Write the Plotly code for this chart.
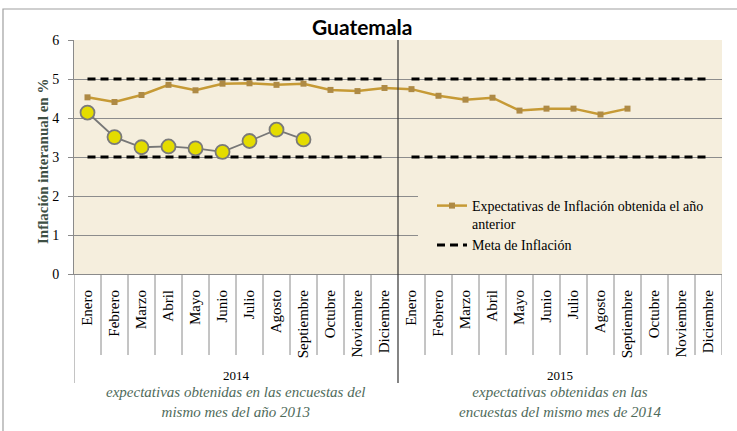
import plotly.graph_objects as go

# ---------------- data ----------------
months = ["Enero", "Febrero", "Marzo", "Abril", "Mayo", "Junio", "Julio",
          "Agosto", "Septiembre", "Octubre", "Noviembre", "Diciembre"]
years = ["2014", "2015"]
tick_labels = months * len(years)

# Expectativas de inflación obtenidas el año anterior (Ene-2014 .. Sep-2015)
expect_prev = [4.53, 4.41, 4.59, 4.85, 4.71, 4.88, 4.89, 4.85, 4.88, 4.72, 4.69, 4.77,
               4.74, 4.57, 4.47, 4.52, 4.19, 4.24, 4.24, 4.09, 4.24]
# Inflación observada 2014 (Ene .. Sep)
observed_2014 = [4.14, 3.51, 3.25, 3.27, 3.22, 3.13, 3.41, 3.70, 3.45]
meta_upper = 5
meta_lower = 3

year_notes = ["<i>expectativas obtenidas en las encuestas del<br>mismo mes del año 2013</i>",
              "<i>expectativas obtenidas en las<br>encuestas del mismo mes de 2014</i>"]

# ---------------- layout constants ----------------
W, H = 737, 431
L, R, T, B = 74, 15, 40, 157
PW, PH = W - L - R, H - T - B

def px_x(px):
    return (px - L) / PW

def px_y(py):
    return (H - B - py) / PH

SERIF = "Liberation Serif"
BEIGE = "#F5EEDD"
GOLD = "#C69A35"
GOLD_MK = "#AE8A45"
GRID = "#8c8c8c"
NOTE = "#4F6B5B"

n_cat = len(tick_labels)
x_idx = list(range(n_cat))

# meta segments, one per year
meta_x, meta_y = [], []
for level in (meta_upper, meta_lower):
    for yi in range(len(years)):
        block = list(range(yi * 12, yi * 12 + 12))
        meta_x += block + [None]
        meta_y += [level] * len(block) + [None]

fig = go.Figure()

fig.add_trace(go.Scatter(
    x=meta_x, y=meta_y, mode="lines", name="Meta de Inflación",
    line=dict(color="black", width=3, dash="8px,5px"),
    connectgaps=False, legendrank=2, hoverinfo="skip"))

fig.add_trace(go.Scatter(
    x=x_idx[:len(expect_prev)], y=expect_prev, mode="lines+markers",
    name="Expectativas de Inflación obtenida el año<br>anterior",
    line=dict(color=GOLD, width=2.5),
    marker=dict(symbol="square", size=6, color=GOLD_MK),
    legendrank=1))

fig.add_trace(go.Scatter(
    x=x_idx[:len(observed_2014)], y=observed_2014, mode="lines+markers",
    showlegend=False,
    line=dict(color="#777777", width=1.8),
    marker=dict(symbol="circle", size=14, color="#E4DC00",
                line=dict(color="#7a7a7a", width=1.8))))

shapes = []
# legend backing panel (hides gridlines behind the legend)
shapes.append(dict(type="rect", xref="paper", yref="paper", layer="above",
                   x0=px_x(418), x1=1, y0=px_y(266), y1=px_y(190),
                   fillcolor=BEIGE, line=dict(width=0)))
# category boundaries
for i in range(n_cat + 1):
    xb = i - 0.5
    if i == 12:
        shapes.append(dict(type="line", xref="x", yref="paper", x0=xb, x1=xb,
                           y0=px_y(383), y1=1, line=dict(color="#333333", width=1.2)))
    elif i == 0:
        shapes.append(dict(type="line", xref="x", yref="paper", x0=xb, x1=xb,
                           y0=px_y(383), y1=0, line=dict(color="#8a8a8a", width=1)))
    else:
        shapes.append(dict(type="line", xref="x", yref="paper", x0=xb, x1=xb,
                           y0=px_y(355), y1=0, line=dict(color="#8a8a8a", width=1)))
# outer border
shapes.append(dict(type="rect", xref="paper", yref="paper",
                   x0=px_x(3), x1=px_x(742), y0=px_y(445), y1=px_y(9),
                   line=dict(color="#a0a0a0", width=1.2)))

annotations = [
    dict(text="<b>Guatemala</b>", xref="paper", yref="paper", x=px_x(362), y=px_y(27),
         showarrow=False, font=dict(family="Lato, Open Sans, sans-serif", size=21, color="black"),
         xanchor="center", yanchor="middle"),
    dict(text="<b>Inflación interanual en %</b>", xref="paper", yref="paper",
         x=px_x(43), y=px_y(162), textangle=-90, showarrow=False,
         font=dict(family=SERIF, size=15, color="#3E4F44"),
         xanchor="center", yanchor="middle"),
]
for yi, yr in enumerate(years):
    cx = yi * 12 + 5.5
    annotations.append(dict(text=yr, xref="x", yref="paper", x=cx, y=px_y(375),
                            showarrow=False, font=dict(family=SERIF, size=13, color="black"),
                            xanchor="center", yanchor="middle"))
    annotations.append(dict(text=year_notes[yi], xref="x", yref="paper", x=cx, y=px_y(402),
                            showarrow=False, font=dict(family=SERIF, size=15, color=NOTE),
                            xanchor="center", yanchor="middle"))

fig.update_layout(
    width=W, height=H,
    margin=dict(l=L, r=R, t=T, b=B),
    paper_bgcolor="white", plot_bgcolor=BEIGE,
    font=dict(family=SERIF, color="black"),
    shapes=shapes, annotations=annotations,
    legend=dict(x=px_x(418), y=px_y(190), xanchor="left", yanchor="top",
                bgcolor=BEIGE, borderwidth=0, valign="top", indentation=14,
                font=dict(family=SERIF, size=14, color="black")),
    xaxis=dict(range=[-0.5, n_cat - 0.5], tickmode="array", tickvals=x_idx,
               ticktext=tick_labels, tickangle=-90, showgrid=False, ticks="",
               showline=True, linecolor="#8a8a8a", zeroline=False,
               ticklabelstandoff=9,
               tickfont=dict(family=SERIF, size=15, color="black")),
    yaxis=dict(range=[0, 6], dtick=1, showgrid=True, gridcolor=GRID, gridwidth=1,
               ticks="outside", ticklen=5, tickcolor="#8a8a8a",
               showline=True, linecolor="#8a8a8a", zeroline=False,
               ticklabelstandoff=6,
               tickfont=dict(family=SERIF, size=14, color="black")),
)

fig.write_html("out.html", post_script="document.body.style.margin='0';",
               config={"displayModeBar": False})
